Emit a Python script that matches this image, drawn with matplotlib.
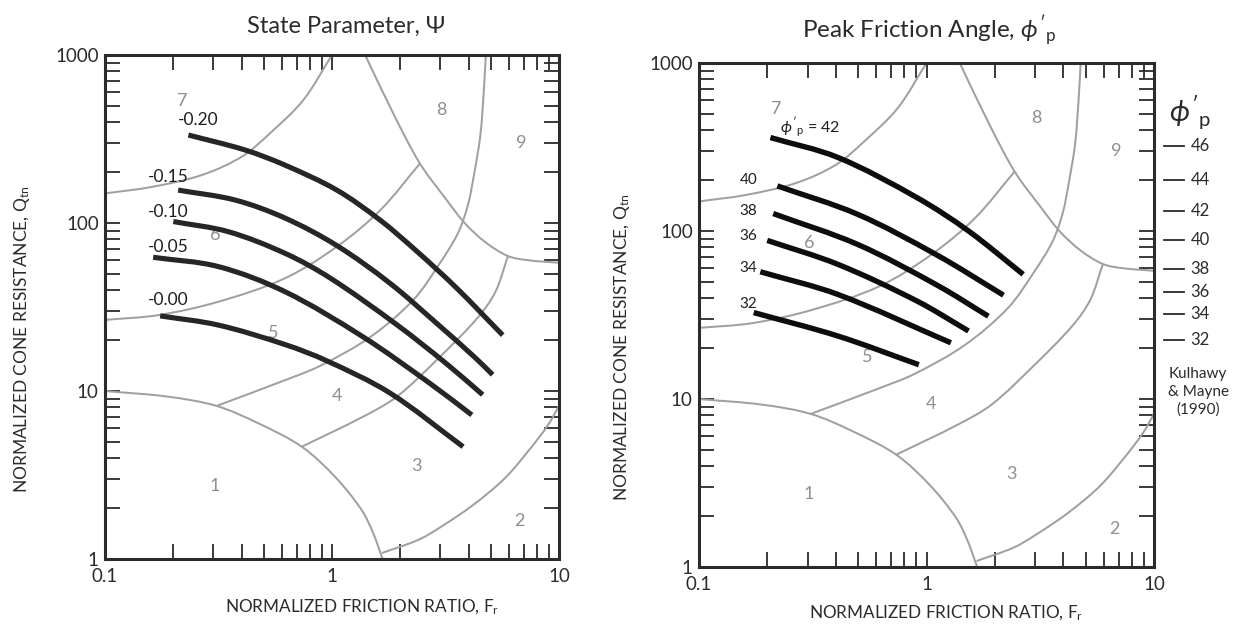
import numpy as np
import matplotlib
matplotlib.use("Agg")
import matplotlib.pyplot as plt
from matplotlib.path import Path
from matplotlib.patches import PathPatch
from matplotlib.ticker import LogLocator, FixedLocator, NullFormatter, FixedFormatter
from matplotlib.transforms import blended_transform_factory

plt.rcParams['font.family'] = ['Lato', 'DejaVu Sans']
plt.rcParams['mathtext.fontset'] = 'custom'
plt.rcParams['mathtext.rm'] = 'Lato'
plt.rcParams['mathtext.it'] = 'Lato:italic'
plt.rcParams['mathtext.fallback'] = 'cm'

# ---- soil behaviour type zone boundaries (Fr %, Qtn) ----
zone1_fr = [0.10, 0.19, 0.31, 0.473, 0.736, 1.03, 1.35, 1.52, 1.67]
zone1_q = [10.0, 9.25, 8.15, 6.43, 4.66, 3.09, 1.96, 1.42, 1.0]

zone23_fr = [1.66, 2.40, 2.99, 4.19, 5.78, 7.45, 8.95, 10.0]
zone23_q = [1.086, 1.30, 1.54, 2.10, 3.03, 4.52, 6.28, 8.15]

zone34_fr = [0.736, 1.37, 1.93, 2.92, 4.35, 5.24, 5.96]
zone34_q = [4.66, 7.03, 9.25, 15.5, 27.0, 38.8, 63.6]

zone45_fr = [0.31, 0.621, 0.885, 1.47, 2.28, 2.99, 3.59, 3.97, 4.22, 4.50, 4.66, 4.76]
zone45_q = [8.15, 11.6, 14.1, 20.9, 34.8, 57.8, 87.2, 128, 193, 330, 600, 1000]

zone56_fr = [0.10, 0.172, 0.316, 0.621, 1.05, 1.63, 2.44]
zone56_q = [26.5, 28.3, 34.0, 46.9, 72.3, 119, 226]

zone67_fr = [0.10, 0.161, 0.267, 0.400, 0.533, 0.748, 1.0]
zone67_q = [150, 164, 193, 248, 342, 540, 1000]

zone8_fr = [1.40, 1.86, 2.44, 3.20, 3.85, 4.73, 5.96, 7.33, 10.0]
zone8_q = [1000, 450, 226, 137, 99.6, 77.0, 63.6, 60.0, 58.0]

boundaries = [
    (zone1_fr, zone1_q), (zone23_fr, zone23_q), (zone34_fr, zone34_q),
    (zone45_fr, zone45_q), (zone56_fr, zone56_q), (zone67_fr, zone67_q),
    (zone8_fr, zone8_q),
]

zone_names = ['1', '2', '3', '4', '5', '6', '7', '8', '9']
zone_label_fr = [0.305, 6.72, 2.36, 1.05, 0.55, 0.305, 0.218, 3.04, 6.8]
zone_label_q_left = [2.73, 1.68, 3.6, 9.3, 22.0, 84.5, 530, 472, 298]
zone_label_q_right = [2.73, 1.68, 3.6, 9.3, 17.8, 84.5, 530, 472, 298]

# ---- state parameter contours ----
psi_labels = ['-0.20', '-0.15', '-0.10', '-0.05', '-0.00']
psi_fr = [
    [0.233, 0.414, 0.621, 1.05, 1.63, 2.36, 3.54, 5.65],
    [0.210, 0.374, 0.621, 1.05, 1.80, 2.89, 4.27, 5.10],
    [0.200, 0.349, 0.621, 0.98, 1.93, 3.20, 4.61],
    [0.163, 0.316, 0.621, 1.37, 2.70, 4.13],
    [0.175, 0.315, 0.621, 0.951, 1.80, 3.78],
]
psi_q = [
    [334, 272, 221, 157, 104, 68, 41, 21.5],
    [157, 137, 107, 73.4, 43.8, 25.3, 15.8, 12.5],
    [102, 88.8, 66, 47.1, 24.8, 14.5, 9.5],
    [62.5, 55, 39, 21, 11.1, 7.2],
    [28, 24.7, 18.9, 15.1, 9.73, 4.66],
]
psi_label_fr = [0.257, 0.190, 0.190, 0.190, 0.190]
psi_label_q = [410, 189, 117, 72.3, 34.8]

# ---- peak friction angle contours ----
phi_values = [42, 40, 38, 36, 34, 32]
phi_fr = [
    [0.206, 0.408, 0.908, 1.53, 2.66],
    [0.221, 0.498, 1.11, 2.18],
    [0.212, 0.498, 1.11, 1.87],
    [0.1995, 0.408, 0.908, 1.53],
    [0.186, 0.408, 1.28],
    [0.174, 0.408, 0.925],
]
phi_q = [
    [360, 274, 158, 100, 55.2],
    [185.5, 125.7, 72.0, 41.5],
    [127, 83.2, 47.7, 31.1],
    [87.9, 63.3, 38.3, 25.4],
    [57.2, 41.9, 21.6],
    [32.7, 23.7, 16.0],
]
phi_label_fr = [0.165, 0.165, 0.165, 0.165, 0.165]
phi_label_q = [201, 131.5, 93.3, 60.5, 36.6]
phi42_label = (0.308, 413)

# Kulhawy & Mayne (1990) side scale
km_angles = ['46', '44', '42', '40', '38', '36', '34', '32']
km_q = [321, 201, 132, 88, 59, 43.5, 32, 22.4]

W, H = 1241, 633
fig = plt.figure(figsize=(W / 100, H / 100), dpi=100)
fig.patch.set_facecolor('white')

frame_col = '#2b2b2b'
grey = '#a0a0a0'
text_col = '#2b2b2b'
ASPECT = 227.0 / 168.0   # pixels per decade, x relative to y


def smooth_curve(ax, fr, q, **kw):
    """Draw a smooth cubic curve through the given (Fr, Q) points on log axes."""
    p = np.column_stack([np.log10(fr) * ASPECT, np.log10(q)])
    n = len(p)
    tang = np.zeros_like(p)
    for i in range(n):
        a = p[max(i - 1, 0)]
        b = p[min(i + 1, n - 1)]
        d = b - a
        tang[i] = d / np.hypot(*d)
    verts = [p[0]]
    codes = [Path.MOVETO]
    for i in range(n - 1):
        seg = np.hypot(*(p[i + 1] - p[i])) / 3.0
        verts += [p[i] + tang[i] * seg, p[i + 1] - tang[i + 1] * seg, p[i + 1]]
        codes += [Path.CURVE4] * 3
    verts = np.array(verts)
    verts[:, 0] /= ASPECT
    path = Path(10.0 ** verts, codes)
    patch = PathPatch(path, fill=False, transform=ax.transData, **kw)
    ax.add_patch(patch)
    return patch


def make_axes(left_px, top_px, right_px, bottom_px):
    ax = fig.add_axes([left_px / W, 1 - bottom_px / H,
                       (right_px - left_px) / W, (bottom_px - top_px) / H])
    ax.set_xscale('log')
    ax.set_yscale('log')
    ax.set_xlim(0.1, 10)
    ax.set_ylim(1, 1000)
    ax.set_autoscale_on(False)
    for s in ax.spines.values():
        s.set_linewidth(2.2)
        s.set_color(frame_col)
    ax.xaxis.set_major_locator(FixedLocator([0.1, 1, 10]))
    ax.xaxis.set_major_formatter(FixedFormatter(['0.1', '1', '10']))
    ax.yaxis.set_major_locator(FixedLocator([1, 10, 100, 1000]))
    ax.yaxis.set_major_formatter(FixedFormatter(['1', '10', '100', '1000']))
    ax.xaxis.set_minor_locator(LogLocator(base=10, subs=range(2, 10)))
    ax.yaxis.set_minor_locator(LogLocator(base=10, subs=range(2, 10)))
    ax.xaxis.set_minor_formatter(NullFormatter())
    ax.yaxis.set_minor_formatter(NullFormatter())
    ax.tick_params(which='both', direction='in', top=True, right=True,
                   length=10.5, width=1.3, color=frame_col)
    ax.tick_params(axis='x', which='major', labelsize=13.5, labelcolor=text_col, pad=6.5)
    ax.tick_params(axis='y', which='major', labelsize=13.5, labelcolor=text_col, pad=4.5)
    for fr, q in boundaries:
        smooth_curve(ax, fr, q, edgecolor=grey, lw=1.45, capstyle='butt', zorder=2)
    return ax


def zone_labels(ax, qs):
    for name, fr, q in zip(zone_names, zone_label_fr, qs):
        ax.text(fr, q, name, color='#8f8f8f', fontsize=13,
                ha='center', va='center', zorder=1)


# ---------------- left panel: state parameter ----------------
axl = make_axes(105, 55, 559, 559)
zone_labels(axl, zone_label_q_left)
for fr, q in zip(psi_fr, psi_q):
    smooth_curve(axl, fr, q, edgecolor='#262626', lw=3.7, capstyle='butt', zorder=3)
for lab, fr, q in zip(psi_labels, psi_label_fr, psi_label_q):
    axl.text(fr, q, lab, fontsize=12.5, color='#1e1e1e', ha='center', va='center', zorder=4)

# ---------------- right panel: peak friction angle ----------------
axr = make_axes(699, 63, 1154, 567)
zone_labels(axr, zone_label_q_right)
for fr, q in zip(phi_fr, phi_q):
    smooth_curve(axr, fr, q, edgecolor='#0d0d0d', lw=3.9, capstyle='butt', zorder=3)
for val, fr, q in zip(phi_values[1:], phi_label_fr, phi_label_q):
    axr.text(fr, q, str(val), fontsize=11, color='#1e1e1e', ha='center', va='center', zorder=4)
axr.text(phi42_label[0], phi42_label[1], r"$\phi'_{\mathrm{p}}$" + " = " + str(phi_values[0]),
         fontsize=11.5, color='#1e1e1e', ha='center', va='center', zorder=4)

# side scale
trans = blended_transform_factory(axr.transAxes, axr.transData)
for lab, q in zip(km_angles, km_q):
    axr.plot([1.022, 1.066], [q, q], color='#2b2b2b', lw=1.3, transform=trans, clip_on=False)
    axr.text(1.080, q, lab, fontsize=12, color='#2b2b2b', ha='left', va='center',
             transform=trans)
fig.text(1190 / W, 1 - 112 / H, r"$\phi'_{\mathrm{p}}$", fontsize=21, color='#2b2b2b',
         ha='center', va='center')
fig.text(1198 / W, 1 - 392 / H, "Kulhawy\n& Mayne\n(1990)", fontsize=11,
         color='#2b2b2b', ha='center', va='center', linespacing=1.3)

# titles and axis labels
fig.text(346 / W, 1 - 26 / H, "State Parameter, \u03a8", fontsize=17, color=text_col,
         ha='center', va='center')
fig.text(929 / W, 1 - 31 / H, r"Peak Friction Angle, $\phi'_{\mathrm{p}}$", fontsize=17.5,
         color=text_col, ha='center', va='center')

xlab = r"NORMALIZED FRICTION RATIO, F$_{\mathrm{r}}$"
ylab = r"NORMALIZED CONE RESISTANCE, Q$_{\mathrm{tn}}$"
fig.text(362 / W, 1 - 607 / H, xlab, fontsize=12.3, color=text_col, ha='center', va='center')
fig.text(946 / W, 1 - 613 / H, xlab, fontsize=12.3, color=text_col, ha='center', va='center')
fig.text(22 / W, 1 - 339 / H, ylab, fontsize=12.5, color=text_col, ha='center', va='center',
         rotation=90)
fig.text(622 / W, 1 - 347 / H, ylab, fontsize=12.5, color=text_col, ha='center', va='center',
         rotation=90)

fig.savefig('out.png', dpi=100, facecolor='white')
